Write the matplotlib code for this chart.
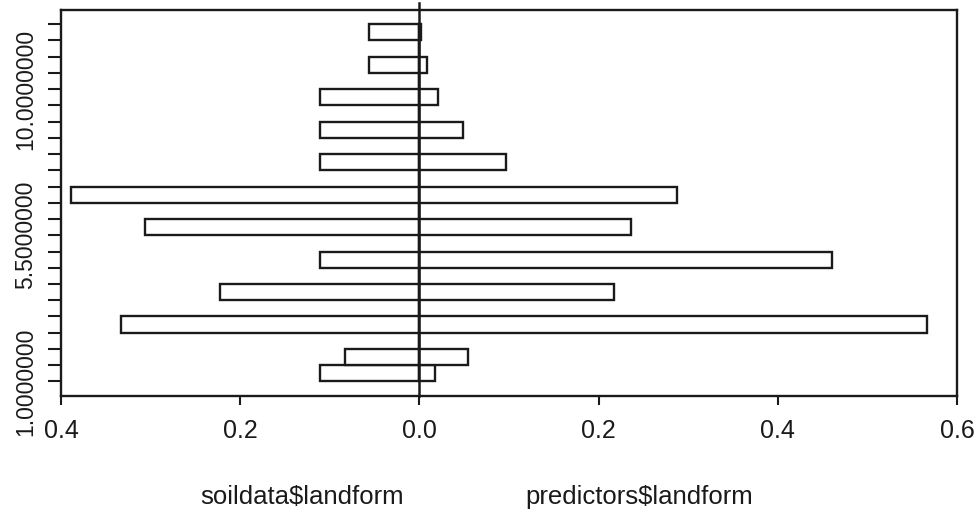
import numpy as np
import matplotlib
matplotlib.use('Agg')
import matplotlib.pyplot as plt

# back-to-back histogram (densities), 22 bins of width 0.5 from 1.0 to 12.0
soil_density = [0.111, 0.083, 0.0, 0.333, 0.0, 0.222, 0.0, 0.111, 0.0, 0.306, 0.0,
                0.389, 0.0, 0.111, 0.0, 0.111, 0.0, 0.111, 0.0, 0.056, 0.0, 0.056]
pred_density = [0.018, 0.054, 0.0, 0.567, 0.0, 0.217, 0.0, 0.460, 0.0, 0.236, 0.0,
                0.288, 0.0, 0.097, 0.0, 0.049, 0.0, 0.021, 0.0, 0.008, 0.0, 0.002]

# y tick labels at the 23 bin edges, only some of them are printed
y_tick_labels = ['1.0000000', '', '', '', '', '', '', '', '', '5.5000000', '', '',
                 '', '', '', '', '', '', '10.0000000', '', '', '', '']
x_ticks = [-0.4, -0.2, 0.0, 0.2, 0.4, 0.6]
x_tick_labels = ['0.4', '0.2', '0.0', '0.2', '0.4', '0.6']
xlabels = ['soildata$landform', 'predictors$landform']

plt.rcParams['font.family'] = ['Liberation Sans', 'DejaVu Sans']
ink = '#1a1a1a'

fig = plt.figure(figsize=(9.77, 5.09), dpi=100)
ax = fig.add_axes([0.0624, 0.2226, 0.9171, 0.7578])

n = len(soil_density)
centers = np.arange(n) + 0.5
ax.barh(centers, -np.array(soil_density), height=1.0, color='white',
        edgecolor=ink, linewidth=1.7)
ax.barh(centers, pred_density, height=1.0, color='white',
        edgecolor=ink, linewidth=1.7)

ax.set_xlim(-0.4, 0.6)
ax.set_ylim(-0.04 * n, n + 0.04 * n)

# zero line sticks out a bit past the box, like in the original
ax.axvline(0, ymin=0, ymax=1.018, color=ink, linewidth=1.8, clip_on=False)

ax.set_xticks(x_ticks)
ax.set_xticklabels(x_tick_labels)
ax.set_yticks(np.arange(n + 1))
ax.set_yticklabels(y_tick_labels, rotation=90, va='center')

ax.tick_params(axis='x', length=6.5, width=1.5, pad=10, labelsize=18,
               colors=ink)
ax.tick_params(axis='y', length=9.4, width=1.5, pad=8, labelsize=16.5,
               colors=ink)
for sp in ax.spines.values():
    sp.set_linewidth(1.7)
    sp.set_color(ink)

# axis titles placed under each half
ax.text(0.2695, -0.232, xlabels[0], transform=ax.transAxes, ha='center',
        va='top', fontsize=18.5, color=ink)
ax.text(0.6456, -0.232, xlabels[1], transform=ax.transAxes, ha='center',
        va='top', fontsize=18.5, color=ink)

fig.savefig('out.png', dpi=100, facecolor='white')
